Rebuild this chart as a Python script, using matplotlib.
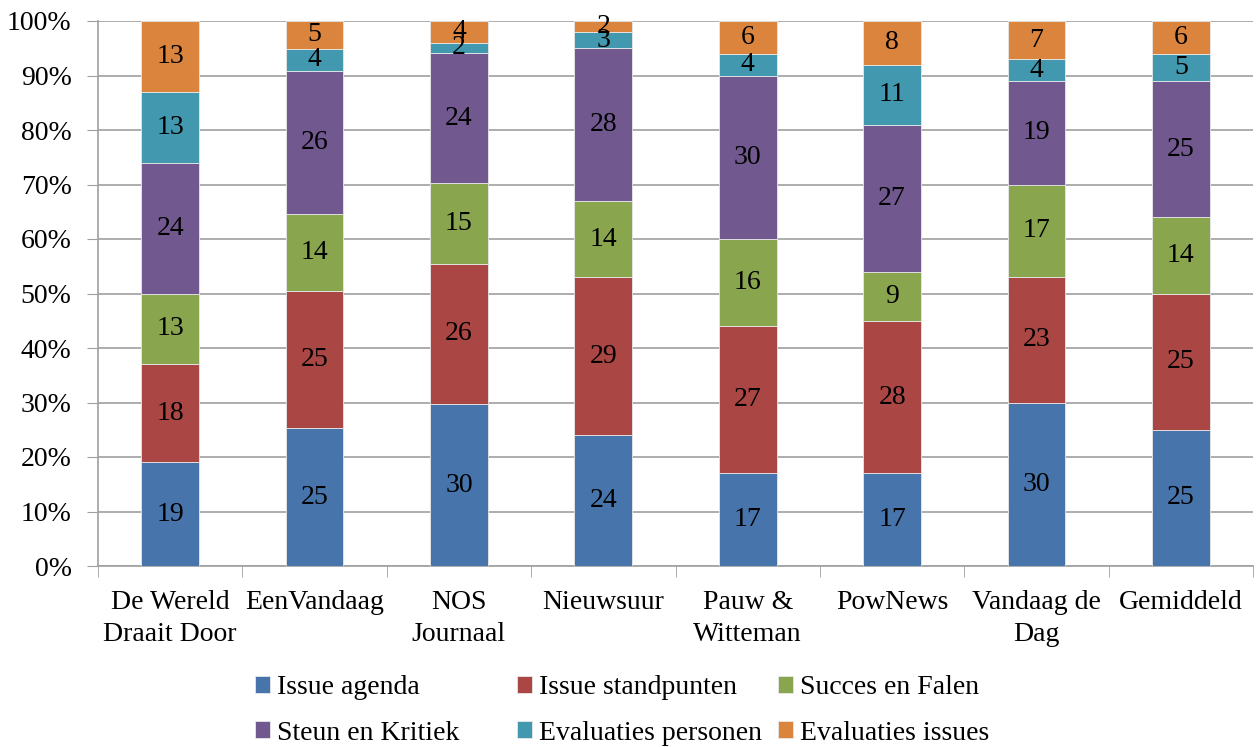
import numpy as np
import matplotlib.pyplot as plt

plt.rcParams['font.family'] = ['Liberation Serif', 'DejaVu Serif']

programmas = ['De Wereld\nDraait Door', 'EenVandaag', 'NOS\nJournaal', 'Nieuwsuur',
              'Pauw &\nWitteman', 'PowNews', 'Vandaag de\nDag', 'Gemiddeld']
reeksen = ['Issue agenda', 'Issue standpunten', 'Succes en Falen',
           'Steun en Kritiek', 'Evaluaties personen', 'Evaluaties issues']
issue_agenda = [19, 25, 30, 24, 17, 17, 30, 25]
issue_standpunten = [18, 25, 26, 29, 27, 28, 23, 25]
succes_falen = [13, 14, 15, 14, 16, 9, 17, 14]
steun_kritiek = [24, 26, 24, 28, 30, 27, 19, 25]
eval_personen = [13, 4, 2, 3, 4, 11, 4, 5]
eval_issues = [13, 5, 4, 2, 6, 8, 7, 6]
kleuren = ['#4674AB', '#AA4643', '#89A54E', '#71588F', '#4198AF', '#DB843D']

waarden = np.array([issue_agenda, issue_standpunten, succes_falen,
                    steun_kritiek, eval_personen, eval_issues], dtype=float)
pct = waarden / waarden.sum(axis=0) * 100

fig = plt.figure(figsize=(12.56, 7.47), dpi=100)
ax = fig.add_axes([98/1256, 1-566/747, 1155/1256, 545/747])
x = np.arange(len(programmas))
onder = np.zeros(len(programmas))
handles = []
for i in range(len(reeksen)):
    bars = ax.bar(x, pct[i], 0.4, bottom=onder, color=kleuren[i],
                  edgecolor='#e8e8e8', linewidth=0.6, label=reeksen[i], zorder=3)
    handles.append(bars)
    for j, b in enumerate(bars):
        ax.text(b.get_x() + b.get_width()/2, onder[j] + pct[i][j]/2,
                '%d' % waarden[i][j], ha='center', va='center', fontsize=20, zorder=4)
    onder += pct[i]

ax.set_xlim(-0.5, len(programmas) - 0.5)
ax.set_ylim(0, 100)
ax.set_yticks(np.arange(0, 101, 10))
ax.set_yticklabels(['%d%%' % v for v in range(0, 101, 10)], fontsize=20)
ax.yaxis.grid(True, color='#a0a0a0', linewidth=1.2, zorder=0)
ax.set_xticks(x)
ax.set_xticklabels(programmas, fontsize=20, linespacing=1.4)
ax.set_xticks(np.arange(-0.5, len(programmas)), minor=True)
ax.tick_params(axis='x', which='major', length=0, pad=17)
ax.tick_params(axis='x', which='minor', length=8, color='#a0a0a0')
ax.tick_params(axis='y', length=8, color='#a0a0a0', pad=11)
for k in ['top', 'right']:
    ax.spines[k].set_visible(False)
for k in ['left', 'bottom']:
    ax.spines[k].set_color('#a0a0a0')
    ax.spines[k].set_linewidth(1.2)

# legenda: drie kolommen van gelijke breedte, rij voor rij gevuld
kolom_x = [255, 517, 778]
for c in range(3):
    leg = fig.legend([handles[c], handles[c + 3]], [reeksen[c], reeksen[c + 3]],
                     loc='upper left', bbox_to_anchor=(kolom_x[c]/1256, 1 - 675/747),
                     frameon=False, fontsize=20, handlelength=0.55, handleheight=0.55,
                     handletextpad=0.25, labelspacing=0.74, borderpad=0,
                     borderaxespad=0)

fig.savefig('out.png', dpi=100)
